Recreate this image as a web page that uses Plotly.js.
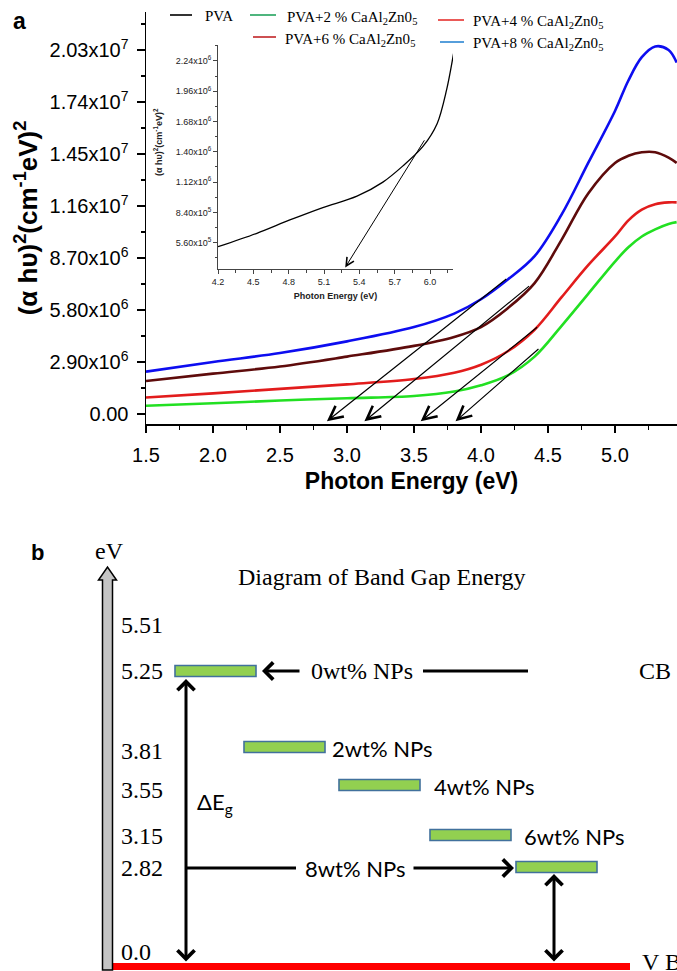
<!DOCTYPE html>
<html>
<head>
<meta charset="utf-8">
<script src="https://cdn.plot.ly/plotly-3.0.1.min.js"></script>
<style>html,body{margin:0;padding:0;background:#fff}#chart{width:677px;height:971px}</style>
</head>
<body>
<div id="chart"></div>
<script>
// ---------------- DATA ----------------
// Panel a: Tauc plot, photon energy (eV) vs (alpha h nu)^2 (cm^-1 eV)^2
const energy = [1.5, 2.0, 2.5, 3.0, 3.5, 3.8, 4.0, 4.2, 4.4, 4.6, 4.8, 5.0, 5.1, 5.2, 5.3, 5.4, 5.46];
const pva2 = [0.46e6, 0.60e6, 0.75e6, 0.88e6, 1.00e6, 1.25e6, 1.60e6, 2.15e6, 3.2e6, 4.9e6, 6.7e6, 8.5e6, 9.3e6, 9.9e6, 1.03e7, 1.06e7, 1.07e7];
const pva4 = [0.92e6, 1.15e6, 1.40e6, 1.65e6, 1.95e6, 2.30e6, 2.75e6, 3.5e6, 4.7e6, 6.5e6, 8.3e6, 9.9e6, 1.08e7, 1.14e7, 1.17e7, 1.18e7, 1.18e7];
const pva6 = [1.84e6, 2.25e6, 2.65e6, 3.20e6, 3.80e6, 4.30e6, 4.85e6, 5.9e6, 7.3e6, 9.7e6, 1.23e7, 1.40e7, 1.44e7, 1.46e7, 1.46e7, 1.43e7, 1.40e7];
const pva8 = [2.36e6, 2.90e6, 3.40e6, 4.05e6, 4.85e6, 5.60e6, 6.40e6, 7.5e6, 8.8e6, 1.11e7, 1.40e7, 1.69e7, 1.86e7, 1.99e7, 2.05e7, 2.03e7, 1.96e7];
const seriesNames = ['PVA+2 % CaAl<sub>2</sub>Zn0<sub>5</sub>', 'PVA+4 % CaAl<sub>2</sub>Zn0<sub>5</sub>',
                     'PVA+6 % CaAl<sub>2</sub>Zn0<sub>5</sub>', 'PVA+8 % CaAl<sub>2</sub>Zn0<sub>5</sub>'];
// tangent (extrapolation) lines: start point on curve and x-intercept
const tangentStartX = [4.44, 4.43, 4.37, 4.20];
const tangentStartY = [3.7e6, 4.9e6, 7.2e6, 7.6e6];
const tangentIntercept = [3.81, 3.55, 3.13, 2.85];
const mainYTickVals = [0, 2.9e6, 5.8e6, 8.7e6, 1.16e7, 1.45e7, 1.74e7, 2.03e7];
const mainYTickText = ['0.00', '2.90x10<sup>6</sup>', '5.80x10<sup>6</sup>', '8.70x10<sup>6</sup>',
                       '1.16x10<sup>7</sup>', '1.45x10<sup>7</sup>', '1.74x10<sup>7</sup>', '2.03x10<sup>7</sup>'];
// Inset: pure PVA
const insetEnergy = [4.2, 4.53, 4.81, 5.09, 5.38, 5.60, 5.77, 5.94, 6.06, 6.14, 6.2];
const insetPVA = [5.23e5, 6.47e5, 7.7e5, 8.85e5, 9.9e5, 1.12e6, 1.27e6, 1.45e6, 1.66e6, 1.97e6, 2.31e6];
const insetTangentStart = [5.96, 1.52e6];
const insetIntercept = 5.28;
const insetYTickVals = [5.6e5, 8.4e5, 1.12e6, 1.40e6, 1.68e6, 1.96e6, 2.24e6];
const insetYTickText = ['5.60x10<sup>5</sup>', '8.40x10<sup>5</sup>', '1.12x10<sup>6</sup>', '1.40x10<sup>6</sup>',
                        '1.68x10<sup>6</sup>', '1.96x10<sup>6</sup>', '2.24x10<sup>6</sup>'];
// Panel b: band gap diagram
const bandLabels = ['0wt% NPs', '2wt% NPs', '4wt% NPs', '6wt% NPs', '8wt% NPs'];
const bandGap = [5.25, 3.81, 3.55, 3.15, 2.82];
const energyAxisLabels = ['5.51', '5.25', '3.81', '3.55', '3.15', '2.82', '0.0'];

// ---------------- LAYOUT HELPERS (positions, not data) ----------------
const W = 677, H = 971;
const PX = p => p / W, PY = p => 1 - p / H;
const serif = 'Liberation Serif, Times New Roman, serif';
const sans = 'Liberation Sans, Arial, sans-serif';
const calib = 'Lato, Carlito, sans-serif';
const curveColors = ['#22e022', '#e21c1c', '#5e0b0b', '#0d0df0'];
const legendColors = ['#000000', '#24a35e', '#e5302e', '#c02426', '#2b86d2'];
// schematic slots for panel b (pixel canvas)
const labelSlotY = [625, 671, 751, 790, 836, 868, 952];
const barSlotY = [671, 747, 785, 835, 867];
const barStartX = [175, 244, 339, 430, 516];
const barLen = 81;
const barLabelX = [309, 330, 432, 522, 303];

// ---------------- TRACES ----------------
const traces = [];
[pva2, pva4, pva6, pva8].forEach((ys, i) => {
  traces.push({x: energy, y: ys, type: 'scatter', mode: 'lines', name: seriesNames[i],
    line: {color: curveColors[i], width: 2.6, shape: 'spline', smoothing: 1},
    xaxis: 'x', yaxis: 'y', showlegend: false, hoverinfo: 'skip'});
});
traces.push({x: insetEnergy, y: insetPVA, type: 'scatter', mode: 'lines', name: 'PVA',
  line: {color: '#000', width: 1.3, shape: 'spline', smoothing: 0.9},
  xaxis: 'x2', yaxis: 'y2', showlegend: false, hoverinfo: 'skip'});
traces.push({type: 'bar', orientation: 'h', xaxis: 'x3', yaxis: 'y3',
  y: barSlotY, base: barStartX, x: bandGap.map(() => barLen), width: 11,
  text: bandGap.map(String), textposition: 'none',
  marker: {color: '#92d050', line: {color: '#41719c', width: 1.6}},
  showlegend: false, hoverinfo: 'skip'});

// ---------------- ANNOTATIONS / SHAPES ----------------
const ann = [];
const shapes = [];
const yMin = -5.58e5, yMax = 2.2419e7;
const y2Min = 3.17e5, y2Max = 2.387e6;
const T = (o) => Object.assign({xanchor: 'center', yanchor: 'middle', showarrow: false}, o);

// tangents in main plot
tangentStartX.forEach((sx, i) => {
  ann.push({xref: 'x', yref: 'y', axref: 'x', ayref: 'y', x: tangentIntercept[i], y: yMin + 1.5e5,
    ax: sx, ay: tangentStartY[i], text: '', showarrow: true, arrowhead: 5, arrowsize: 2.2,
    arrowwidth: 1.2, arrowcolor: '#000'});
});
// tangent in inset
ann.push({xref: 'x2', yref: 'y2', axref: 'x2', ayref: 'y2', x: insetIntercept, y: y2Min + 1.5e4,
  ax: insetTangentStart[0], ay: insetTangentStart[1], text: '', showarrow: true, arrowhead: 5,
  arrowsize: 1.6, arrowwidth: 1, arrowcolor: '#000'});
// inset y title
ann.push(T({xref: 'paper', yref: 'paper', x: PX(158), y: PY(142), textangle: -90,
  text: '<b>(α hυ)<sup>2</sup>(cm<sup>-1</sup>eV)<sup>2</sup></b>', font: {family: sans, size: 9, color: '#222'}}));
// panel label a
ann.push(T({xref: 'paper', yref: 'paper', x: PX(19), y: PY(21), text: '<b>a</b>',
  font: {family: sans, size: 23, color: '#000'}}));
// legend (manual, two rows)
const legendNames = ['PVA'].concat(seriesNames);
const legLineX = [[170, 192], [250, 276], [438, 464], [253, 276], [440, 464]];
const legLineY = [15, 15, 20, 37, 42];
const legTextX = [203, 285, 471, 283, 471];
const legTextY = [16, 18, 22, 40, 44];
legendNames.forEach((nm, i) => {
  shapes.push({type: 'line', xref: 'paper', yref: 'paper', x0: PX(legLineX[i][0]), x1: PX(legLineX[i][1]),
    y0: PY(legLineY[i]), y1: PY(legLineY[i]), line: {color: legendColors[i], width: 1.6}});
  ann.push(T({xref: 'paper', yref: 'paper', x: PX(legTextX[i]), y: PY(legTextY[i]), xanchor: 'left',
    text: nm, font: {family: serif, size: 15, color: '#000'}}));
});

// ----- panel b -----
ann.push(T({xref: 'paper', yref: 'paper', x: PX(37), y: PY(552), text: '<b>b</b>',
  font: {family: sans, size: 22, color: '#000'}}));
ann.push(T({xref: 'x3', yref: 'y3', x: 109, y: 551, text: 'eV',
  font: {family: serif, size: 24, color: '#000'}}));
ann.push(T({xref: 'x3', yref: 'y3', x: 381, y: 577, text: 'Diagram of Band Gap Energy',
  font: {family: serif, size: 24, color: '#000'}}));
ann.push(T({xref: 'x3', yref: 'y3', x: 637, y: 671, xanchor: 'left', text: 'CB',
  font: {family: serif, size: 24, color: '#000'}}));
ann.push(T({xref: 'x3', yref: 'y3', x: 640, y: 962, xanchor: 'left', text: 'V B',
  font: {family: serif, size: 24, color: '#000'}}));
// bar labels
bandLabels.forEach((lb, i) => {
  ann.push(T({xref: 'x3', yref: 'y3', x: barLabelX[i], y: barSlotY[i] + (i === 0 ? 0 : 1), xanchor: 'left',
    text: lb, font: {family: i === 0 ? serif : calib, size: i === 0 ? 24 : 22, color: '#000'}}));
});
ann.push(T({xref: 'x3', yref: 'y3', x: 195, y: 803, xanchor: 'left', text: 'ΔE<sub>g</sub>',
  font: {family: calib, size: 22, color: '#000'}}));
// arrows
const arr = (x, y, ax, ay, both) => ann.push({xref: 'x3', yref: 'y3', axref: 'x3', ayref: 'y3',
  x: x, y: y, ax: ax, ay: ay, text: '', showarrow: true, arrowhead: 4, arrowsize: 1.1, arrowwidth: 3,
  arrowcolor: '#000', arrowside: both ? 'end+start' : 'end'});
arr(262, 671, 301, 671, false);
arr(514, 868, 412, 868, false);
arr(186, 679, 186, 963, true);
arr(554, 874, 554, 963, true);
shapes.push({type: 'line', xref: 'x3', yref: 'y3', x0: 423, x1: 528, y0: 671, y1: 671, line: {color: '#000', width: 3}});
shapes.push({type: 'line', xref: 'x3', yref: 'y3', x0: 186, x1: 296, y0: 868, y1: 868, line: {color: '#000', width: 3}});
// red VB line
shapes.push({type: 'line', xref: 'x3', yref: 'y3', x0: 113, x1: 630, y0: 966.5, y1: 966.5, line: {color: '#ff0000', width: 7}});
// gray energy arrow
shapes.push({type: 'path', xref: 'x3', yref: 'y3',
  path: 'M102.5,970 L102.5,580 L98.5,580 L107.5,567 L116.5,580 L112.5,580 L112.5,970 Z',
  fillcolor: '#c4c4c4', line: {color: '#000', width: 1.5}});

const layout = {
  width: W, height: H, margin: {l: 0, r: 0, t: 0, b: 0},
  paper_bgcolor: '#fff', plot_bgcolor: 'rgba(0,0,0,0)', showlegend: false, hovermode: false,
  font: {family: sans, color: '#000'},
  xaxis: {domain: [PX(146), 1], range: [1.5, 1.5 + 531 / 134], anchor: 'y', automargin: false,
    tickmode: 'linear', tick0: 1.5, dtick: 0.5, tickformat: '.1f',
    ticks: 'outside', ticklen: 7, tickwidth: 1.5, tickcolor: '#000', showline: true, linewidth: 1.5, linecolor: '#000',
    showgrid: false, zeroline: false, ticklabelstandoff: 5,
    minor: {tickmode: 'linear', tick0: 1.5, dtick: 0.25, ticks: 'outside', ticklen: 4, tickwidth: 1.5, tickcolor: '#000', showgrid: false},
    tickfont: {family: sans, size: 20, color: '#000'},
    title: {text: '<b>Photon Energy (eV)</b>', font: {family: sans, size: 23, color: '#000'}, standoff: 8}},
  yaxis: {domain: [PY(424), PY(12)], range: [yMin, yMax], anchor: 'x', automargin: false,
    tickmode: 'array', tickvals: mainYTickVals, ticktext: mainYTickText,
    ticks: 'outside', ticklen: 8, tickwidth: 1.5, tickcolor: '#000', showline: true, linewidth: 1.5, linecolor: '#000',
    showgrid: false, zeroline: false, ticklabelstandoff: 4,
    minor: {tickmode: 'linear', tick0: 0, dtick: 1.45e6, ticks: 'outside', ticklen: 4, tickwidth: 1.5, tickcolor: '#000', showgrid: false},
    tickfont: {family: sans, size: 20, color: '#000'},
    title: {text: '<b>(α hυ)<sup>2</sup>(cm<sup>-1</sup>eV)<sup>2</sup></b>', font: {family: sans, size: 26, color: '#000'}, standoff: 4}},
  xaxis2: {domain: [PX(218), PX(453)], range: [4.2, 6.195], anchor: 'y2', automargin: false,
    tickmode: 'linear', tick0: 4.2, dtick: 0.3, tickformat: '.1f',
    ticks: 'outside', ticklen: 4, tickwidth: 1, tickcolor: '#444', showline: true, linewidth: 1, linecolor: '#444',
    showgrid: false, zeroline: false,
    minor: {tickmode: 'linear', tick0: 4.2, dtick: 0.15, ticks: 'outside', ticklen: 2.5, tickwidth: 1, tickcolor: '#444', showgrid: false},
    tickfont: {family: sans, size: 9, color: '#222'},
    title: {text: '<b>Photon Energy (eV)</b>', font: {family: sans, size: 9, color: '#222'}, standoff: 6}},
  yaxis2: {domain: [PY(269), PY(45)], range: [y2Min, y2Max], anchor: 'x2', automargin: false,
    tickmode: 'array', tickvals: insetYTickVals, ticktext: insetYTickText,
    ticks: 'outside', ticklen: 4, tickwidth: 1, tickcolor: '#444', showline: true, linewidth: 1, linecolor: '#444',
    showgrid: false, zeroline: false,
    minor: {tickmode: 'linear', tick0: 0, dtick: 1.4e5, ticks: 'outside', ticklen: 2.5, tickwidth: 1, tickcolor: '#444', showgrid: false},
    tickfont: {family: sans, size: 9, color: '#222'}},
  xaxis3: {domain: [0, 1], range: [0, W], anchor: 'y3', visible: false, automargin: false, fixedrange: true},
  yaxis3: {domain: [0, PY(530)], range: [H, 530], anchor: 'free', position: PX(113), automargin: false,
    tickmode: 'array', tickvals: labelSlotY, ticktext: energyAxisLabels, ticklabelposition: 'inside',
    ticks: '', showline: false, showgrid: false, zeroline: false, ticklabelstandoff: 4,
    tickfont: {family: serif, size: 24, color: '#000'}},
  annotations: ann, shapes: shapes
};
Plotly.newPlot('chart', traces, layout, {displayModeBar: false, staticPlot: true});
</script>
</body>
</html>
